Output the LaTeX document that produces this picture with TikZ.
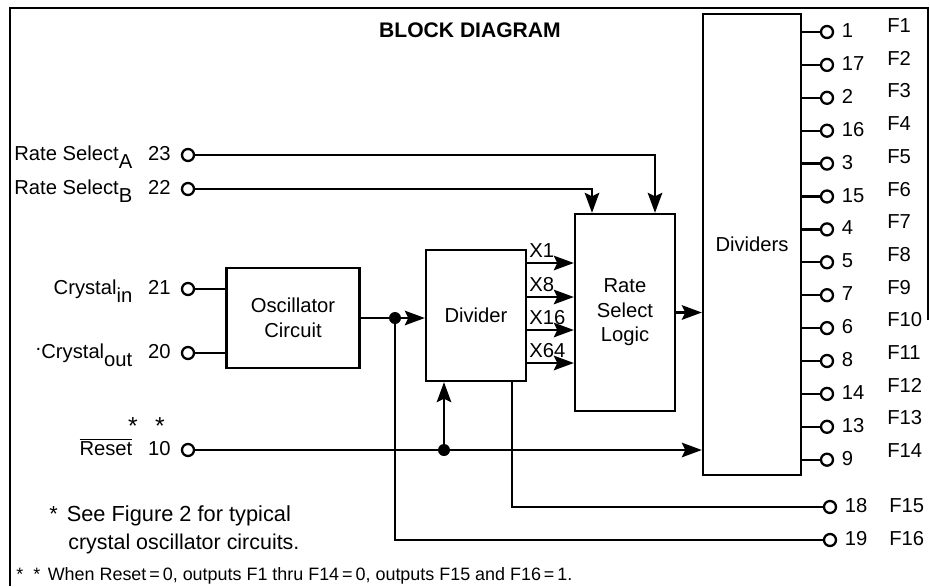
\documentclass[tikz,border=0pt]{standalone}
\usepackage{fontspec}
\setmainfont{Liberation Sans}
\usetikzlibrary{arrows.meta,positioning,calc}

\begin{document}
\begin{tikzpicture}[
    x=0.2mm, y=-0.2mm,
    font=\fontsize{11.5}{14}\selectfont,
    block/.style={draw, line width=1.3pt, align=center},
    pin/.style={circle, draw, line width=1.3pt, inner sep=0pt, minimum size=2.4mm},
    dot/.style={circle, fill, inner sep=0pt, minimum size=2.4mm},
    wire/.style={line width=1.3pt},
    arrow/.style={-{Stealth[length=4mm,width=2.9mm,inset=0.7mm]}, line width=1.3pt},
    lbl/.style={inner sep=0pt, text height=1.7ex, text depth=0.5ex},
    note/.style={anchor=base west, inner sep=0pt}
]
\useasboundingbox (0,0) rectangle (930,586);
\draw[line width=1.3pt] (928,320) -- (928,8) -- (10,8) -- (10,586);
\node[font=\bfseries\fontsize{12}{14}\selectfont] (title) at (470,30) {BLOCK DIAGRAM};

% blocks
\node[block, minimum width=26.6mm, minimum height=20mm] (osc) at (293,318) {Oscillator\\Circuit};
\node[block, minimum width=20mm, minimum height=26.2mm] (div) at (476,315.5) {Divider};
\node[block, minimum width=20mm, minimum height=39.4mm] (rsl) at (625,312.5) {Rate\\Select\\Logic};
\node[block, minimum width=19.6mm, minimum height=92.2mm] (dvs) at (752,244.5) {Dividers};

% input pins
\node[pin] (pA) at (188,155) {};
\node[lbl, left=2mm of pA] (nA) {23};
\node[lbl, left=3mm of nA] (tA) {Rate Select\raisebox{-0.7ex}{A}};
\node[pin] (pB) at (188,189) {};
\node[lbl, left=2mm of pB] (nB) {22};
\node[lbl, left=3mm of nB] (tB) {Rate Select\raisebox{-0.7ex}{B}};
\node[pin] (pXi) at (188,289) {};
\node[lbl, left=2mm of pXi] (nXi) {21};
\node[lbl, left=3mm of nXi] (tXi) {Crystal\raisebox{-0.7ex}{in}};
\node[pin] (pXo) at (188,353) {};
\node[lbl, left=2mm of pXo] (nXo) {20};
\node[lbl, left=3mm of nXo] (tXo) {\raisebox{0.8ex}{.}Crystal\raisebox{-0.7ex}{out}};
\node[pin] (pR) at (188,450) {};
\node[lbl, left=2mm of pR] (nR) {10};
\node[lbl, left=3mm of nR] (tR) {$\overline{\mbox{Reset}}$};
\node[inner sep=0pt, font=\fontsize{14}{14}\selectfont] (st1) at (133,426) {*};
\node[inner sep=0pt, font=\fontsize{14}{14}\selectfont] (st2) at (160,426) {*};

% connections
\draw[arrow] (pA) -| ([xshift=6mm]rsl.north);
\draw[arrow] (pB) -| ([xshift=-6.6mm]rsl.north);
\draw[wire] (pXi) -- (pXi -| osc.west);
\draw[wire] (pXo) -- (pXo -| osc.west);
\node[dot] (j1) at (395,318) {};
\draw[wire] (osc.east) -- (j1);
\draw[arrow] (j1) -- (j1 -| div.west);
\foreach \yy/\tag in {263/X1, 297/X8, 330/X16, 363/X64} {
  \draw[arrow] (div.east |- 0,\yy) -- (rsl.west |- 0,\yy);
  \node[note] (lab\tag) at (529,\yy-6) {\tag};
}
\draw[arrow] (rsl.east) -- (rsl.east -| dvs.west);
\node[dot] (j2) at (444,450) {};
\draw[arrow] (pR) -- (pR -| dvs.west);
\draw[arrow] (j2) -- (j2 |- div.south);

% outputs
\foreach \pn [count=\i] in {1,17,2,16,3,15,4,5,7,6,8,14,13,9} {
  \node[pin] (o\i) at (827,{32+(\i-1)*32.9}) {};
  \draw[wire] (o\i.west) -- (o\i.west -| dvs.east);
  \node[lbl, right=1.5mm of o\i] (n\i) {\pn};
  \node[lbl, anchor=west] (f\i) at (887,{27+(\i-1)*32.7}) {F\i};
}
\node[pin] (p18) at (830,507) {};
\node[lbl, right=1.5mm of p18] (n18) {18};
\node[lbl, anchor=west] (f15) at (889,507) {F15};
\node[pin] (p19) at (830,540) {};
\node[lbl, right=1.5mm of p19] (n19) {19};
\node[lbl, anchor=west] (f16) at (889,540) {F16};
\draw[wire] ([xshift=7.2mm]div.south) |- (p18);
\draw[wire] (j1) |- (p19);

% notes
\node[note, font=\fontsize{12.4}{14}\selectfont] (note1) at (49,521) {*\hspace{1.8mm}See Figure 2 for typical};
\node[note, font=\fontsize{12.2}{14}\selectfont] (note2) at (68,549) {crystal oscillator circuits.};
\node[note, font=\fontsize{10.2}{12}\selectfont] (note3) at (16,580) {*\hspace{2mm}*\hspace{1.5mm}When Reset\,=\,0, outputs F1 thru F14\,=\,0, outputs F15 and F16\,=\,1.};
\end{tikzpicture}
\end{document}
